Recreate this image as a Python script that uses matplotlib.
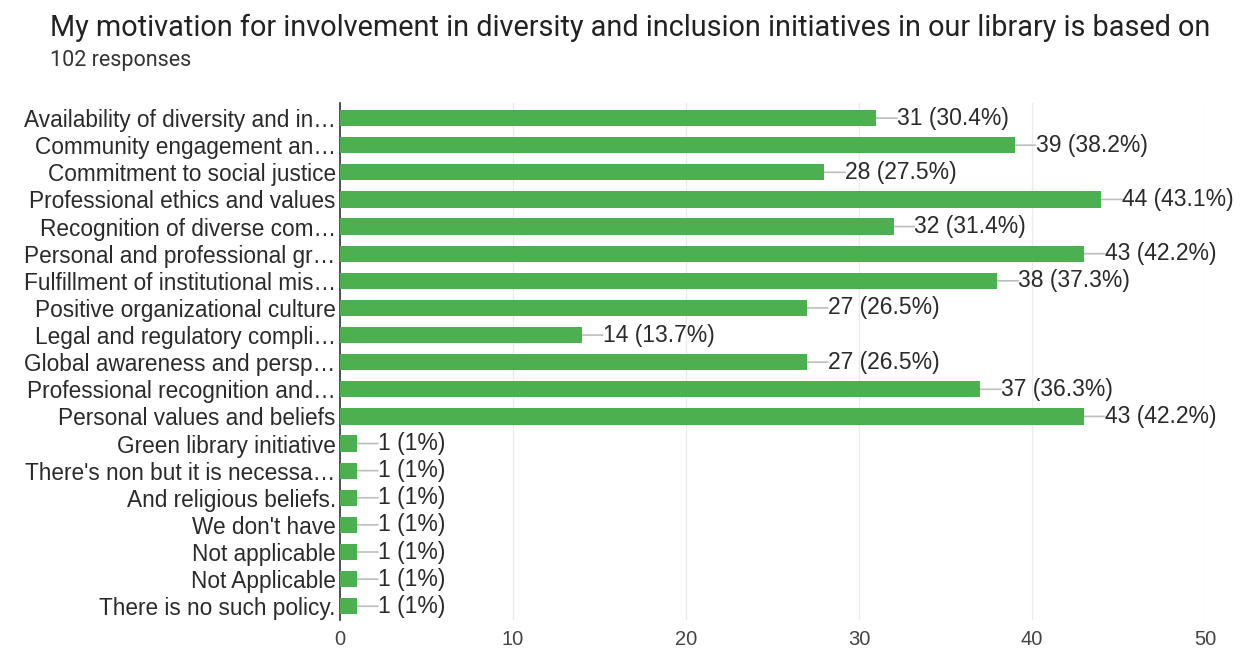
import matplotlib
matplotlib.use("Agg")
import matplotlib.pyplot as plt

categories = [
    "Availability of diversity and in\u2026",
    "Community engagement an\u2026",
    "Commitment to social justice",
    "Professional ethics and values",
    "Recognition of diverse com\u2026",
    "Personal and professional gr\u2026",
    "Fulfillment of institutional mis\u2026",
    "Positive organizational culture",
    "Legal and regulatory compli\u2026",
    "Global awareness and persp\u2026",
    "Professional recognition and\u2026",
    "Personal values and beliefs",
    "Green library initiative",
    "There's non but it is necessa\u2026",
    "And religious beliefs.",
    "We don't have",
    "Not applicable",
    "Not Applicable",
    "There is no such policy.",
]
counts = [31, 39, 28, 44, 32, 43, 38, 27, 14, 27, 37, 43, 1, 1, 1, 1, 1, 1, 1]
percents = ["30.4%", "38.2%", "27.5%", "43.1%", "31.4%", "42.2%", "37.3%",
            "26.5%", "13.7%", "26.5%", "36.3%", "42.2%",
            "1%", "1%", "1%", "1%", "1%", "1%", "1%"]
xticks = [0, 10, 20, 30, 40, 50]

fig = plt.figure(figsize=(12.45, 6.53), dpi=100)
ax = fig.add_axes([0.273, 0.05, 0.695, 0.792])

ypos = list(range(len(categories)))
ax.barh(ypos, counts, height=0.6, color="#4caf50", zorder=3)

# connector line + value label for each bar
for y, c, p in zip(ypos, counts, percents):
    ax.annotate("", xy=(c, y), xytext=(c + 1.2, y),
                arrowprops=dict(arrowstyle="-", color="#bdbdbd", lw=1.2, shrinkA=0, shrinkB=0),
                zorder=2)
    ax.text(c + 1.2, y, f"{c} ({p})", va="center", ha="left",
            fontsize=16.5, color="#2a2a2a", family="Liberation Sans")

ax.set_xlim(0, 50)
ax.set_ylim(18.52, -0.55)
ax.set_xticks(xticks)
ax.set_xticklabels([str(t) for t in xticks], fontsize=14.5, color="#444444",
                   family="Liberation Sans")
ax.set_yticks(ypos)
ax.set_yticklabels(categories, fontsize=16.3, color="#2a2a2a", family="Liberation Sans")
ax.tick_params(axis="both", length=0)
ax.tick_params(axis="x", pad=7)
ax.tick_params(axis="y", pad=3)
ax.grid(axis="x", color="#ebebeb", lw=1, zorder=0)
for s in ["top", "right", "bottom"]:
    ax.spines[s].set_visible(False)
ax.spines["left"].set_color("#333333")
ax.spines["left"].set_linewidth(1.2)
ax.axhline(18.52, color="#e8e8e8", lw=1, ls=":", zorder=0)

fig.text(0.04, 0.958, "My motivation for involvement in diversity and inclusion initiatives in our library is based on",
         fontsize=20.8, color="#222222", family="Roboto", va="center")
fig.text(0.04, 0.908, "102 responses", fontsize=15.5, color="#333333", family="Roboto", va="center")

fig.savefig("out.png", dpi=100)
